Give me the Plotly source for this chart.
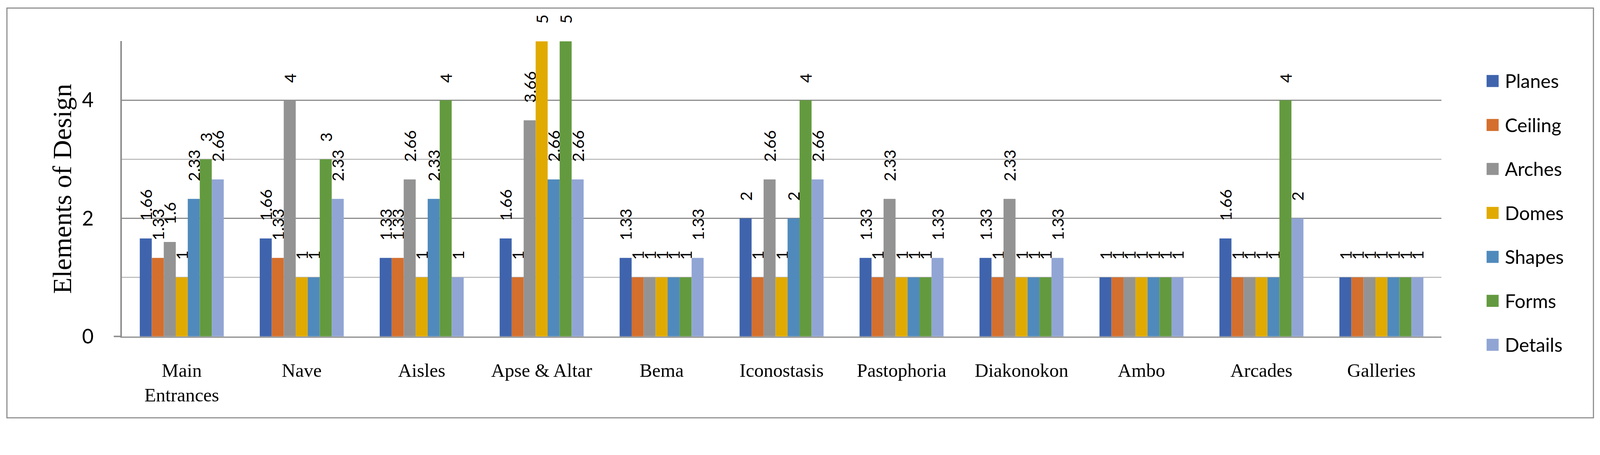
import plotly.graph_objects as go

categories = ["Main Entrances", "Nave", "Aisles", "Apse & Altar", "Bema", "Iconostasis",
              "Pastophoria", "Diakonokon", "Ambo", "Arcades", "Galleries"]
tick_labels = ["Main<br>Entrances", "Nave", "Aisles", "Apse & Altar", "Bema", "Iconostasis",
               "Pastophoria", "Diakonokon", "Ambo", "Arcades", "Galleries"]

planes  = [1.66, 1.66, 1.33, 1.66, 1.33, 2,    1.33, 1.33, 1, 1.66, 1]
ceiling = [1.33, 1.33, 1.33, 1,    1,    1,    1,    1,    1, 1,    1]
arches  = [1.6,  4,    2.66, 3.66, 1,    2.66, 2.33, 2.33, 1, 1,    1]
domes   = [1,    1,    1,    5,    1,    1,    1,    1,    1, 1,    1]
shapes_ = [2.33, 1,    2.33, 2.66, 1,    2,    1,    1,    1, 1,    1]
forms   = [3,    3,    4,    5,    1,    4,    1,    1,    1, 4,    1]
details = [2.66, 2.33, 1,    2.66, 1.33, 2.66, 1.33, 1.33, 1, 2,    1]

series_names = ["Planes", "Ceiling", "Arches", "Domes", "Shapes", "Forms", "Details"]
series_values = [planes, ceiling, arches, domes, shapes_, forms, details]
colors = ["#3F64AD", "#D46F2E", "#939393", "#E0AA00", "#508ABC", "#639A3F", "#91A5D4"]

y_title = "Elements of Design"
y_ticks = [0, 2, 4]
y_minor = [1, 3, 5]

W, H = 4388, 1164
L, R, T, B = 334, 3953, 113, 922

def px(x):
    return (x - L) / (R - L)

def py(y):
    return (B - y) / (B - T)

fig = go.Figure()
pad = "\u00a0" * 4
for name, vals, col in zip(series_names, series_values, colors):
    fig.add_trace(go.Bar(
        x=categories, y=vals, name=name, marker=dict(color=col, line=dict(width=0)),
        text=[f"{v:g}" for v in vals], texttemplate=pad + "%{text}",
        textposition="outside", textangle=-90, constraintext="none", cliponaxis=False,
        textfont=dict(family="Lato", size=44, color="black"),
        showlegend=False,
    ))

shapes_list = []
annotations = []
# outer border
shapes_list.append(dict(type="rect", xref="paper", yref="paper",
                        x0=px(19), x1=px(4370), y0=py(1145), y1=py(22),
                        line=dict(color="#898989", width=3), layer="below"))
# small extension of the category axis line to the left of the value axis
shapes_list.append(dict(type="line", xref="paper", yref="paper",
                        x0=px(312), x1=px(334), y0=0, y1=0,
                        line=dict(color="#8C8C8C", width=4)))
# value-axis title
annotations.append(dict(xref="paper", yref="paper", x=px(170), y=0.5, text=y_title,
                        textangle=-90, showarrow=False, xanchor="center", yanchor="middle",
                        font=dict(family="Liberation Serif", size=73, color="black")))
# legend
for i, (name, col) in enumerate(zip(series_names, colors)):
    cy = 222 + 120.5 * i
    shapes_list.append(dict(type="rect", xref="paper", yref="paper",
                            x0=px(4077), x1=px(4110), y0=py(cy + 16.5), y1=py(cy - 16.5),
                            fillcolor=col, line=dict(width=0)))
    annotations.append(dict(xref="paper", yref="paper", x=px(4125), y=py(cy - 1),
                            text=name, showarrow=False, xanchor="left", yanchor="middle",
                            font=dict(family="Lato", size=52, color="black")))

fig.update_layout(
    width=W, height=H,
    margin=dict(l=L, r=W - R, t=T, b=H - B, pad=0),
    paper_bgcolor="white", plot_bgcolor="white",
    barmode="group", bargap=0.3, bargroupgap=0,
    font=dict(family="Lato", color="black"),
    shapes=shapes_list, annotations=annotations,
    xaxis=dict(
        tickvals=categories, ticktext=tick_labels,
        tickfont=dict(family="Liberation Serif", size=52, color="black"),
        showline=True, linecolor="#8C8C8C", linewidth=4,
        showgrid=False, ticks="", ticklabelstandoff=44, automargin=False,
    ),
    yaxis=dict(
        range=[0, 5], tickvals=y_ticks, ticktext=[str(v) for v in y_ticks],
        tickfont=dict(family="Lato", size=55, color="black"),
        showline=True, linecolor="#8C8C8C", linewidth=4,
        showgrid=True, gridcolor="#8C8C8C", gridwidth=4,
        minor=dict(tickvals=y_minor, showgrid=True, gridcolor="#BFBFBF", gridwidth=3, ticks=""),
        zeroline=False, ticks="", ticklabelstandoff=62, automargin=False,
    ),
)

# Fit the fixed-size figure to the actual browser viewport width.
fit_script = (
    "var gd = document.querySelector('.plotly-graph-div');"
    "document.documentElement.style.margin = '0';"
    "document.body.style.margin = '0';"
    "document.body.style.overflow = 'hidden';"
    "var s = window.innerWidth / 4388;"
    "gd.style.transformOrigin = '0 0';"
    "gd.style.transform = 'scale(' + s + ')';"
)

fig.write_html("out.html", post_script=fit_script, config={"displayModeBar": False})
